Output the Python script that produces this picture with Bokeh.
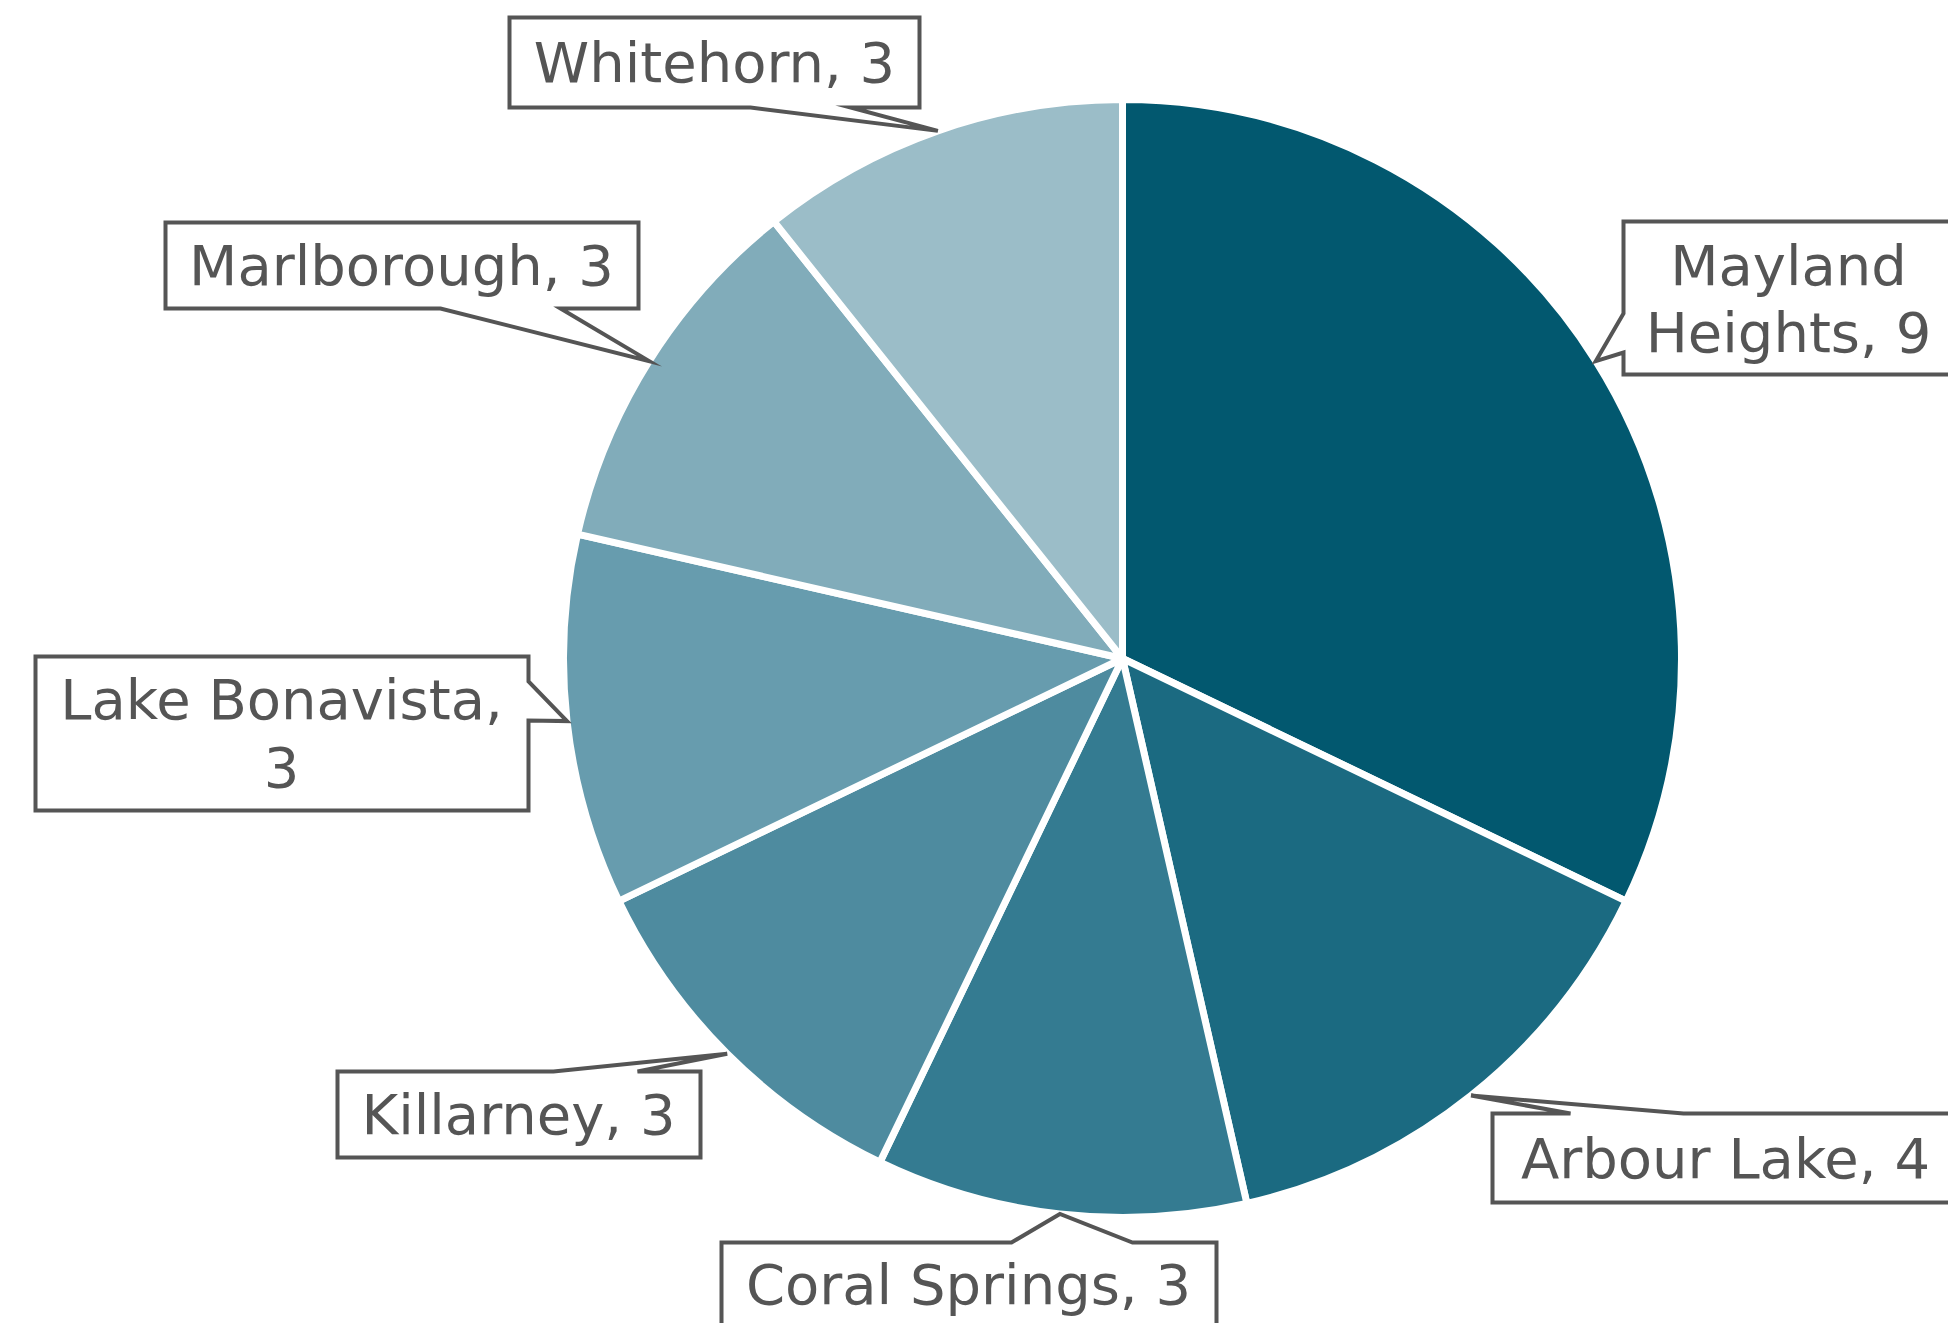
import numpy as np
from bokeh.plotting import figure
from bokeh.models import Range1d, ColumnDataSource
from bokeh.core.properties import value
from bokeh.embed import file_html
from bokeh.resources import INLINE

# ---- data ----
names = ["Mayland Heights", "Arbour Lake", "Coral Springs", "Killarney",
         "Lake Bonavista", "Marlborough", "Whitehorn"]
counts = [9, 4, 3, 3, 3, 3, 3]
colors = ["#02586F", "#1B6A81", "#347B91", "#4E8B9F", "#679CAE", "#81ACBA", "#9BBDC8"]

W, H = 1948, 1323
CX, CY, R = 1122, 658, 559  # screen coords (y down)

p = figure(width=W, height=H, output_backend="svg", toolbar_location=None,
           x_range=Range1d(0, W), y_range=Range1d(0, H),
           x_axis_type=None, y_axis_type=None, min_border=0)
p.grid.visible = False
p.outline_line_color = None
p.background_fill_color = "white"

vals = np.array(counts, dtype=float)
total = vals.sum()
cum = np.concatenate([[0], np.cumsum(vals)])
start = np.pi / 2 - 2 * np.pi * cum[:-1] / total
end = np.pi / 2 - 2 * np.pi * cum[1:] / total

src = ColumnDataSource(dict(start=start, end=end, color=colors))
p.wedge(x=CX, y=H - CY, radius=R, start_angle="start", end_angle="end",
        direction="clock", fill_color="color", line_color="white",
        line_width=7, source=src)

# label layout: box (left, top, right, bottom), pointer side, base range, text lines y
layout = {
    "Mayland Heights": dict(box=(1623, 221, 1953, 374), side="left", base=(313, 352),
                            lines=["Mayland", "Heights, 9"], ty=[265, 332], tx=1788),
    "Arbour Lake": dict(box=(1492, 1113, 1958, 1202), side="top", base=(1570, 1683),
                        lines=None, ty=[1158], tx=1725),
    "Coral Springs": dict(box=(721, 1242, 1216, 1340), side="top", base=(1011, 1132),
                          lines=None, ty=[1284], tx=968),
    "Killarney": dict(box=(337, 1071, 700, 1157), side="top", base=(553, 637),
                      lines=None, ty=[1114], tx=518),
    "Lake Bonavista": dict(box=(35, 656, 528, 810), side="right", base=(681, 720),
                           lines=["Lake Bonavista,", "3"], ty=[699, 766], tx=281),
    "Marlborough": dict(box=(165, 222, 638, 308), side="bottom", base=(440, 560),
                        lines=None, ty=[265], tx=401),
    "Whitehorn": dict(box=(509, 17, 919, 107), side="bottom", base=(750, 850),
                      lines=None, ty=[62], tx=714),
}

mid = (cum[:-1] + cum[1:]) / 2 / total * 2 * np.pi  # clockwise from top
px_list, py_list, tx_list, ty_list, txt_list = [], [], [], [], []
for i, n in enumerate(names):
    L = layout[n]
    l, t, r, b = L["box"]
    tipx = CX + R * np.sin(mid[i])
    tipy = CY - R * np.cos(mid[i])
    b0, b1 = L["base"]
    s = L["side"]
    if s == "top":
        pts = [(l, t), (b0, t), (tipx, tipy), (b1, t), (r, t), (r, b), (l, b)]
    elif s == "right":
        pts = [(l, t), (r, t), (r, b0), (tipx, tipy), (r, b1), (r, b), (l, b)]
    elif s == "bottom":
        pts = [(l, t), (r, t), (r, b), (b1, b), (tipx, tipy), (b0, b), (l, b)]
    else:
        pts = [(l, t), (r, t), (r, b), (l, b), (l, b1), (tipx, tipy), (l, b0)]
    px_list.append([q[0] for q in pts])
    py_list.append([H - q[1] for q in pts])
    lines = L["lines"] or [f"{n}, {counts[i]}"]
    for ln, yy in zip(lines, L["ty"]):
        tx_list.append(L["tx"])
        ty_list.append(H - yy)
        txt_list.append(ln)

p.patches(xs=px_list, ys=py_list, fill_color="white", line_color="#555555",
          line_width=4, line_join="miter")
p.text(x=tx_list, y=ty_list, text=txt_list, text_align="center",
       text_baseline="middle", text_color="#555555",
       text_font=value("DejaVu Sans"), text_font_size="56px")

open("out.html", "w").write(file_html(p, INLINE))
